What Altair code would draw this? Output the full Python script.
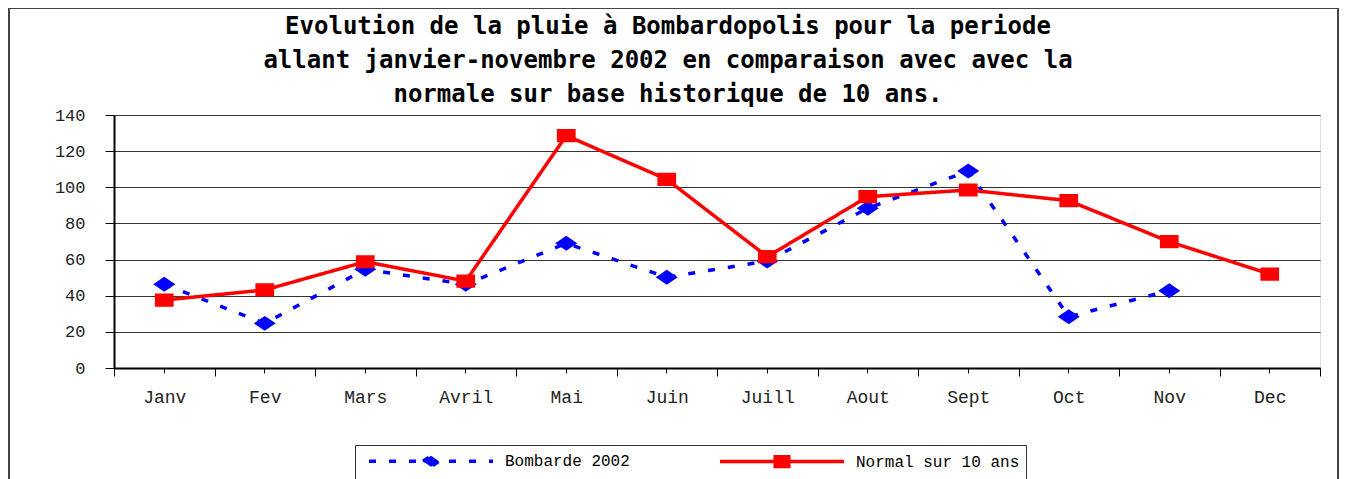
import altair as alt
import pandas as pd

# ---------------- data ----------------
months = ["Janv", "Fev", "Mars", "Avril", "Mai", "Juin",
          "Juill", "Aout", "Sept", "Oct", "Nov", "Dec"]
bombarde_2002 = [46.3, 24.7, 54.6, 46.3, 69.0, 50.2,
                 59.2, 88.4, 109.0, 28.4, 42.8, None]
normale_10ans = [37.6, 43.2, 58.8, 48.1, 128.6, 104.4,
                 61.6, 94.8, 98.5, 92.6, 69.9, 52.0]
series_names = ["Bombarde 2002", "Normal sur 10 ans"]
y_ticks = [0, 20, 40, 60, 80, 100, 120, 140]
title_lines = [
    "Evolution de la pluie à Bombardopolis pour la periode",
    "allant janvier-novembre 2002 en comparaison avec avec la",
    "normale sur base historique de 10 ans.",
]

rows = []
for name, vals in zip(series_names, [bombarde_2002, normale_10ans]):
    for m, v in zip(months, vals):
        rows.append({"mois": m, "serie": name, "pluie": v})
df = pd.DataFrame(rows)

# ---------------- styling ----------------
BLUE = "#0000FF"
RED = "#FF0000"
MONO = "Liberation Mono"

# marker shapes (a zero-area line through the marker is only visible in the legend,
# where symbols are stroked)
diamond_path = "M-7.75,0L7.75,0M-1,0L0,-0.68L1,0L0,0.68Z"
square_path = "M-7.75,0L7.75,0M-0.85,-0.6L0.85,-0.6L0.85,0.6L-0.85,0.6Z"

leg = alt.Legend(
    title=None,
    orient="none",
    legendX=241,
    legendY=330,
    direction="horizontal",
    labelFont=MONO,
    labelFontSize=16,
    labelColor="black",
    labelLimit=400,
    strokeColor="#333333",
    padding=6,
    symbolSize=256,
    symbolStrokeWidth=3.5,
    symbolOffset=60,
    labelOffset=64,
    columnPadding=82,
)

color_enc = alt.Color("serie:N", scale=alt.Scale(domain=series_names, range=[BLUE, RED]), legend=leg)
shape_enc = alt.Shape("serie:N", scale=alt.Scale(domain=series_names, range=[diamond_path, square_path]), legend=leg)
dash_enc = alt.StrokeDash("serie:N", scale=alt.Scale(domain=series_names, range=[[7, 13], [1, 0]]), legend=leg)

x_scale = alt.Scale(type="band", domain=months, paddingInner=0, paddingOuter=0)
y_enc = alt.Y(
    "pluie:Q",
    scale=alt.Scale(domain=[0, 140], nice=False),
    axis=alt.Axis(
        values=y_ticks, grid=True, gridColor="#333333", gridWidth=1.2,
        domainColor="black", domainWidth=2, tickColor="black", tickSize=9,
        labelFont=MONO, labelFontSize=17, labelColor="#222222", labelPadding=20,
        title=None,
    ),
)

base = alt.Chart(df)

lines = base.mark_line(strokeWidth=3.5).encode(
    x=alt.X("mois:N", sort=months, scale=x_scale,
            axis=alt.Axis(orient="bottom", tickBand="extent", tickSize=8, tickColor="black",
                          labelFont=MONO, labelFontSize=18, labelColor="#222222",
                          labelPadding=12, labelAngle=0, domainColor="black",
                          domainWidth=2, title=None, grid=False)),
    y=y_enc,
    color=color_enc,
    strokeDash=dash_enc,
    detail="serie:N",
)

points = base.mark_point(filled=True, opacity=1, size=484).encode(
    x=alt.X("mois:N", sort=months, scale=x_scale,
            axis=alt.Axis(orient="bottom", labels=False, domain=False, tickSize=5,
                          tickColor="black", title=None, grid=False)),
    y=y_enc,
    color=color_enc,
    shape=shape_enc,
)

frame = alt.Chart(alt.Data(values=[{}])).mark_rect(
    fill="transparent", stroke="#444444", strokeWidth=2
).encode(
    x=alt.value(-105), x2=alt.value(1224), y=alt.value(-107), y2=alt.value(420)
)

chart = (
    alt.layer(lines, points, frame)
    .resolve_axis(x="independent")
    .properties(
        width=1206,
        height=253,
        autosize=alt.AutoSizeParams(type="none"),
        padding={"left": 106, "top": 107, "right": 19, "bottom": 111},
        title=alt.TitleParams(
            text=title_lines, font="DejaVu Sans Mono", fontSize=24, fontWeight="bold",
            lineHeight=34, anchor="middle", dx=-49, offset=-100, color="black",
        ),
    )
    .configure_view(stroke="#808080", strokeWidth=3)
    .configure(background="white")
)

chart.save("out.html", embed_options={"renderer": "svg", "actions": False})
